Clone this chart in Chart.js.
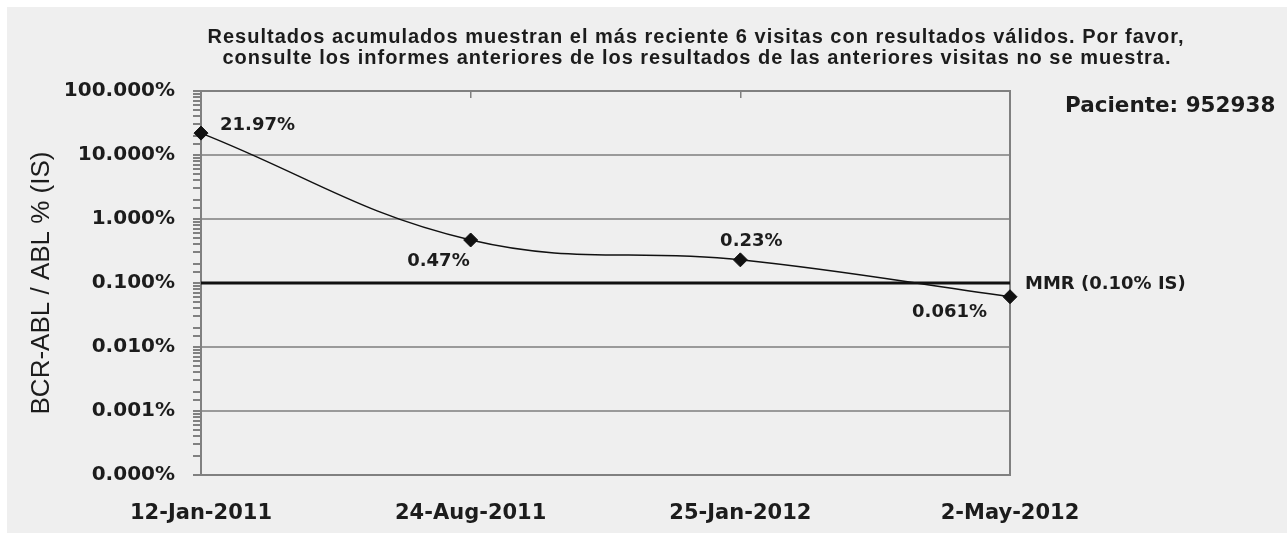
<!DOCTYPE html>
<html lang="es">
<head>
<meta charset="UTF-8">
<title>BCR-ABL / ABL % (IS)</title>
<script src="https://cdn.jsdelivr.net/npm/chart.js"></script>
<style>
  html, body { margin: 0; padding: 0; background: #fff; }
  #wrap { position: relative; width: 1287px; height: 533px; }
  #bg { position: absolute; left: 7px; top: 7px; right: 0; bottom: 0; background: #efefef; }
  #chart { position: absolute; left: 0; top: 0; }
</style>
</head>
<body>
<div id="wrap">
  <div id="bg"></div>
  <canvas id="chart" width="1287" height="533"></canvas>
</div>
<script>
// datos
const visitDates = ['12-Jan-2011', '24-Aug-2011', '25-Jan-2012', '2-May-2012'];
const bcrAblValues = [21.97, 0.47, 0.23, 0.061];
const mmrValues = [0.1, 0.1, 0.1, 0.1];
const yTickValues = [0.0001, 0.001, 0.01, 0.1, 1, 10, 100];
const yTickLabels = ['0.000%', '0.001%', '0.010%', '0.100%', '1.000%', '10.000%', '100.000%'];
const titleLines = [
  'Resultados acumulados muestran el más reciente 6 visitas con resultados válidos. Por favor,',
  'consulte los informes anteriores de los resultados de las anteriores visitas no se muestra.'
];
const patientText = 'Paciente: 952938';
const mmrLabel = 'MMR (0.10% IS)';

const TEXT = '#1c1c1c';
const GRID = '#9a9a9a';
const AXIS = '#808080';
const BOLD = 'DejaVu Sans';

function decadeIndex(v) {
  return yTickValues.findIndex(t => Math.abs(Math.log10(t) - Math.log10(v)) < 1e-6);
}

// etiquetas de valores, MMR, título y paciente
const textPlugin = {
  id: 'texts',
  afterDatasetsDraw(chart) {
    const ctx = chart.ctx;
    const area = chart.chartArea;
    ctx.save();
    ctx.fillStyle = TEXT;
    ctx.textBaseline = 'middle';

    // título
    ctx.font = 'bold 20px "Liberation Sans"';
    ctx.letterSpacing = '1px';
    ctx.textAlign = 'center';
    ctx.fillText(titleLines[0], 696, 37);
    ctx.fillText(titleLines[1], 697, 58);
    ctx.letterSpacing = '0px';

    // paciente
    ctx.font = 'bold 21.5px "' + BOLD + '"';
    ctx.textAlign = 'left';
    ctx.fillText(patientText, 1065, 106);

    // valores
    const place = [
      { dx: 19, dy: -8, align: 'left' },
      { dx: -1, dy: 21, align: 'right' },
      { dx: 11, dy: -19, align: 'center' },
      { dx: -23, dy: 16, align: 'right' }
    ];
    ctx.font = 'bold 18px "' + BOLD + '"';
    const meta = chart.getDatasetMeta(0);
    meta.data.forEach((pt, i) => {
      const p = place[i];
      ctx.textAlign = p.align;
      ctx.fillText(bcrAblValues[i] + '%', pt.x + p.dx, pt.y + p.dy);
    });

    // MMR
    ctx.textAlign = 'left';
    const yMmr = chart.scales.y.getPixelForValue(mmrValues[mmrValues.length - 1]);
    ctx.fillText(mmrLabel, area.right + 15, yMmr + 1);
    ctx.restore();
  }
};

new Chart(document.getElementById('chart'), {
  type: 'line',
  data: {
    labels: visitDates,
    datasets: [
      {
        label: 'BCR-ABL / ABL % (IS)',
        data: bcrAblValues,
        borderColor: '#111',
        borderWidth: 1.5,
        tension: 0.4,
        pointStyle: 'rectRot',
        pointRadius: 7,
        pointBackgroundColor: '#111',
        pointBorderColor: '#111',
        pointBorderWidth: 1,
        clip: false
      },
      {
        label: 'MMR',
        data: mmrValues,
        borderColor: '#111',
        borderWidth: 3,
        pointRadius: 0
      }
    ]
  },
  options: {
    responsive: false,
    animation: false,
    layout: { padding: { top: 91, left: 0, right: 0, bottom: 0 } },
    plugins: {
      legend: { display: false },
      tooltip: { enabled: false },
      title: { display: false }
    },
    scales: {
      x: {
        type: 'category',
        offset: false,
        grid: { display: false },
        border: { color: AXIS, width: 2 },
        ticks: {
          autoSkip: false,
          maxRotation: 0,
          padding: 18,
          color: TEXT,
          font: { family: BOLD, weight: 'bold', size: 21 }
        },
        afterFit: s => { s.height = 58; }
      },
      xTop: {
        type: 'category',
        position: 'top',
        offset: false,
        grid: { display: true, drawOnChartArea: false, tickLength: -7, color: AXIS, lineWidth: 1.5 },
        border: { color: AXIS, width: 2 },
        ticks: { display: false },
        afterFit: s => { s.height = 0; }
      },
      y: {
        type: 'logarithmic',
        min: 0.0001,
        max: 100,
        grid: {
          color: c => decadeIndex(c.tick.value) >= 0 ? GRID : 'rgba(0,0,0,0)',
          tickColor: AXIS,
          tickLength: 8,
          lineWidth: 2
        },
        border: { color: AXIS, width: 2 },
        ticks: {
          autoSkip: false,
          padding: 18,
          color: TEXT,
          font: { family: BOLD, weight: 'bold', size: 20 },
          callback: v => {
            const i = decadeIndex(v);
            return i >= 0 ? yTickLabels[i] : '';
          }
        },
        title: {
          display: true,
          text: 'BCR-ABL / ABL % (IS)',
          color: TEXT,
          font: { family: 'Liberation Sans', size: 26 },
          padding: { top: 26, bottom: 0 }
        },
        afterFit: s => { s.width = 201; }
      },
      yRight: {
        type: 'logarithmic',
        position: 'right',
        min: 0.0001,
        max: 100,
        grid: { display: false },
        border: { color: AXIS, width: 2 },
        ticks: { display: false },
        afterFit: s => { s.width = 277; }
      }
    }
  },
  plugins: [textPlugin]
});
</script>
</body>
</html>
